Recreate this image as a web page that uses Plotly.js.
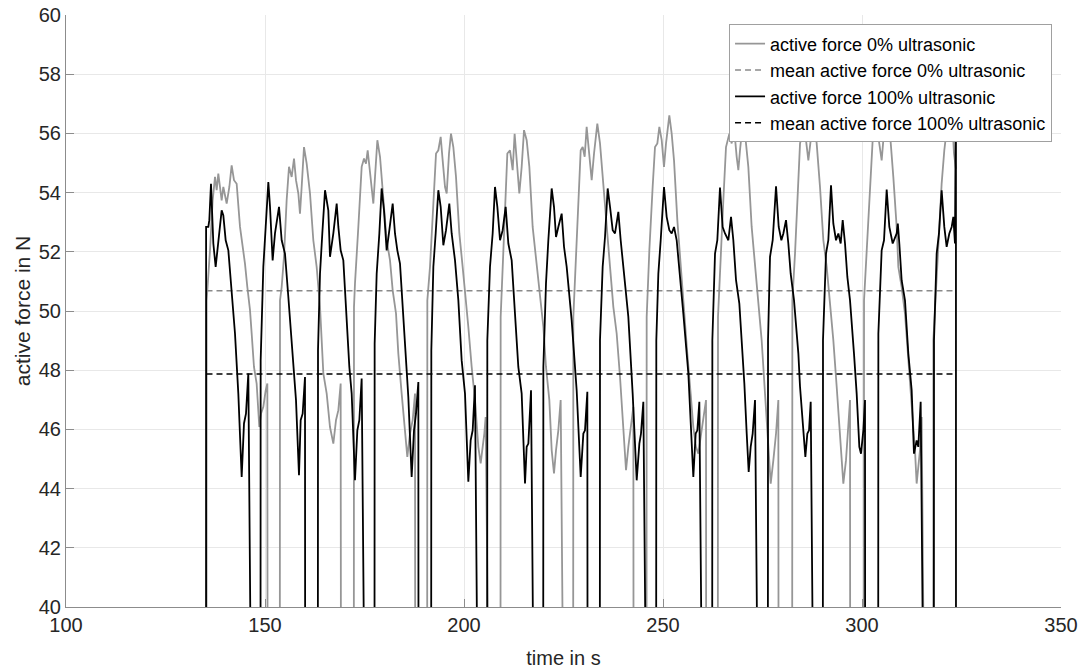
<!DOCTYPE html>
<html>
<head>
<meta charset="utf-8">
<script src="https://cdn.plot.ly/plotly-3.0.1.min.js"></script>
<style>html,body{margin:0;padding:0;background:#fff;}#chart{width:1086px;height:671px;}</style>
</head>
<body>
<div id="chart"></div>
<script>
// active force 100% ultrasonic: time (s) and force (N); 0 marks the drops below the axis
const time100 = [
135.18,135.20,135.76,136.01,136.43,137.02,137.60,138.27,139.11,139.53,140.12,140.79,141.62,142.46,143.30,144.14,144.72,145.22,145.81,145.98,
148.74,148.91,149.58,150.17,150.84,151.26,151.92,152.51,153.52,154.19,155.02,155.86,157.12,157.79,158.54,158.96,159.46,160.05,160.22,
163.15,163.32,163.82,164.40,165.08,165.91,166.33,167.17,168.01,168.43,169.01,169.68,170.35,171.19,171.78,172.61,173.20,173.70,174.29,174.46,
177.39,177.55,178.06,178.73,179.31,179.90,180.57,181.24,182.08,182.66,183.25,183.92,184.59,185.43,186.01,186.85,187.44,187.94,188.53,188.69,
191.63,191.79,192.30,192.88,193.55,194.14,194.81,195.48,196.31,196.90,197.74,198.58,199.41,200.25,201.09,201.67,202.18,202.76,202.93,
205.70,205.86,206.53,207.20,207.79,208.38,209.05,209.72,210.47,211.14,211.98,212.81,213.65,214.49,215.33,215.75,216.17,216.84,217.00,
219.77,219.94,220.60,221.19,222.03,222.61,223.12,223.70,224.54,225.13,225.80,227.05,228.31,229.32,229.99,230.40,230.99,231.24,
234.00,234.17,234.84,235.43,236.10,236.69,237.36,237.94,238.78,239.37,240.04,241.29,242.38,243.39,244.06,244.47,245.06,245.31,
248.16,248.32,248.83,249.42,250.25,250.92,251.59,252.18,252.77,253.44,254.11,255.11,256.37,257.20,257.62,258.21,258.63,259.13,259.30,
262.23,262.40,263.07,263.65,264.32,264.99,265.58,266.42,267.09,267.67,268.35,269.18,269.77,270.44,271.03,271.53,272.03,272.53,273.12,273.29,
276.22,276.39,276.89,277.56,278.40,279.07,279.74,280.24,280.91,281.49,282.08,282.92,284.01,284.43,285.26,285.77,286.27,286.69,287.11,287.36,
290.04,290.20,290.96,291.54,292.21,292.80,293.47,294.06,294.64,295.15,295.73,296.32,296.99,297.99,298.66,299.33,299.75,300.34,300.76,300.92,
303.94,304.11,304.94,305.53,306.20,306.87,307.71,308.71,309.00,309.38,309.96,310.80,311.64,312.48,313.06,313.73,314.15,314.74,315.16,
317.92,318.09,318.76,319.34,320.01,320.68,321.27,321.94,322.53,322.95,323.36,323.60,323.64
];
const force100 = [
0,52.84,52.84,53.07,54.30,52.28,51.49,52.39,53.40,53.23,52.39,52.05,50.70,49.24,47.21,44.39,46.20,46.53,47.89,0,
0,48.34,51.49,52.84,54.36,53.52,51.71,52.62,53.52,52.39,51.94,50.48,48.11,46.99,44.45,46.31,46.53,47.77,0,
0,48.67,51.26,52.62,54.08,53.40,51.83,52.62,53.63,52.84,52.05,51.71,50.03,48.11,47.21,44.28,45.97,46.31,47.72,0,
0,48.90,51.26,52.62,54.14,53.40,52.05,52.73,53.63,52.62,52.05,51.60,50.14,48.11,47.10,44.39,45.97,46.53,47.60,0,
0,48.67,51.49,52.62,54.08,53.52,52.22,52.73,53.63,52.62,51.71,50.36,48.34,47.21,44.23,45.63,45.97,47.49,0,
0,49.01,51.49,52.62,54.19,53.52,52.39,52.73,53.52,52.28,51.71,49.91,48.11,47.21,44.17,45.41,45.52,47.32,0,
0,48.11,50.93,52.39,54.14,53.52,52.50,52.84,53.29,52.17,51.49,49.69,47.32,44.39,45.86,45.97,47.27,0,
0,49.01,51.49,52.50,54.14,53.52,52.73,52.62,53.35,52.39,51.49,49.80,47.21,44.28,45.52,45.86,46.93,0,
0,49.01,51.26,52.39,54.19,53.18,52.73,52.62,52.84,52.39,51.49,49.91,47.89,45.86,44.39,45.86,45.97,46.93,0,
0,49.01,51.94,52.39,54.17,52.84,52.62,52.39,53.18,52.39,51.04,50.25,49.01,47.55,45.86,44.56,45.41,45.86,46.99,0,
0,49.01,51.83,52.39,54.21,52.84,52.39,52.62,53.07,52.28,51.26,50.36,48.56,47.44,45.86,45.07,45.86,45.97,46.93,0,
0,49.01,51.94,52.39,54.25,52.95,52.39,52.62,52.28,53.07,52.28,51.15,50.36,48.56,47.21,45.41,45.18,45.97,46.99,0,
0,49.24,52.05,52.39,54.10,52.84,52.28,52.62,52.95,52.28,51.04,50.36,48.56,47.32,45.18,45.63,45.41,46.93,0,
0,49.01,51.94,52.62,54.08,52.84,52.17,52.62,52.84,53.18,52.28,57.50,0
];

// active force 0% ultrasonic
const time0 = [
135.25,135.34,136.18,136.85,137.44,137.86,138.27,138.69,139.11,139.53,140.37,141.04,141.62,142.21,142.88,143.72,144.39,144.97,145.56,146.23,146.65,147.23,147.90,148.57,148.99,149.58,150.17,150.59,150.84,
153.60,153.77,154.19,154.77,155.44,156.03,156.70,157.29,157.79,158.38,158.79,159.21,159.80,160.47,161.31,162.14,162.98,163.82,164.66,165.50,166.33,167.17,167.84,168.43,169.01,169.35,
172.20,172.36,172.61,173.45,174.29,174.88,175.38,175.80,176.22,176.80,177.22,177.64,178.23,178.90,179.73,180.57,181.41,182.08,182.92,183.50,184.34,185.18,185.76,186.43,187.10,187.69,187.94,
190.62,190.79,191.46,192.30,192.97,193.55,194.14,194.64,195.23,195.65,196.23,196.73,197.32,197.99,198.83,199.66,200.50,201.09,201.93,202.76,203.60,204.19,204.69,205.11,205.44,205.61,
209.05,209.21,209.72,210.30,210.89,211.56,212.23,212.72,213.40,213.90,214.49,215.08,215.75,216.42,217.25,218.26,219.10,219.94,220.60,221.44,222.03,222.61,223.12,223.70,224.29,224.54,
227.31,227.47,228.14,228.73,229.32,229.82,230.32,230.82,231.41,232.08,232.67,233.50,234.17,234.84,235.85,236.69,237.52,238.36,239.20,240.04,240.71,241.29,241.88,242.55,242.80,
245.73,245.90,246.57,247.40,247.99,248.58,249.08,249.67,250.25,250.76,251.59,252.18,252.77,253.60,254.44,255.28,256.11,256.95,257.62,258.29,258.88,259.47,260.14,260.81,260.97,
263.65,263.82,264.32,265.16,265.83,266.67,267.26,267.84,268.51,268.93,269.35,270.02,270.61,271.44,272.28,273.12,273.96,274.79,275.63,276.47,277.06,277.73,278.40,278.98,279.23,
282.33,282.50,283.17,283.76,284.43,285.26,285.93,286.52,287.11,287.94,288.61,289.45,290.29,291.13,291.96,292.80,293.64,294.48,295.31,295.98,296.40,296.99,297.16,
300.34,300.51,301.18,302.01,302.68,303.52,304.11,304.94,305.36,306.20,307.04,307.87,308.71,309.13,309.96,310.80,311.64,312.48,313.31,313.73,314.15,314.57,314.99,315.24,
317.90,317.93,319.18,320.01,320.68,321.27,321.69,322.11,322.78,323.11,323.60
];
const force0 = [
0,50.36,52.05,53.74,54.53,54.08,54.64,54.19,53.74,54.19,53.63,54.19,54.92,54.42,54.30,52.84,52.17,51.60,50.81,50.03,49.24,48.11,47.55,46.08,46.53,46.76,47.32,47.55,0,
0,50.36,50.81,51.83,53.74,54.87,54.53,55.15,54.42,53.97,53.29,54.19,55.54,54.98,53.97,52.39,51.49,50.14,47.89,47.21,46.08,45.52,46.31,46.65,47.55,0,
0,50.14,50.93,52.84,54.87,55.15,54.98,55.43,54.87,54.19,53.63,54.53,55.77,55.21,53.85,52.39,51.71,50.70,49.91,48.56,47.21,45.86,45.07,45.86,46.31,47.21,0,
0,50.36,51.49,53.74,55.32,55.43,55.88,55.09,54.19,53.97,55.32,55.99,55.54,54.53,52.62,51.49,50.36,49.46,48.11,46.99,45.41,44.85,45.41,45.86,46.42,0,
0,49.80,51.49,53.52,55.32,55.43,54.76,55.99,54.87,53.97,54.87,56.11,55.77,54.87,52.84,51.60,50.36,49.46,48.11,46.99,45.30,44.51,45.30,45.97,46.99,0,
0,49.80,52.05,53.74,55.43,55.54,55.21,56.22,55.43,54.42,55.32,56.33,55.66,54.53,52.62,51.49,50.14,49.24,47.77,46.08,44.62,45.41,45.97,46.76,0,
0,49.80,52.05,54.19,55.54,55.66,56.22,55.77,54.87,55.66,56.61,55.99,55.09,53.07,51.49,50.14,48.56,47.21,46.08,45.41,45.18,45.75,46.31,46.99,0,
0,49.80,51.49,53.74,55.54,55.99,55.66,56.22,55.21,54.76,55.43,56.33,55.99,54.87,52.84,51.49,50.36,49.01,47.21,45.30,44.17,44.96,45.86,46.99,0,
0,50.36,51.94,53.97,55.66,56.11,55.77,55.09,55.77,56.33,55.66,54.19,52.39,51.49,50.36,49.01,47.44,45.86,44.17,44.96,45.86,46.99,0,
0,50.36,52.05,53.97,55.77,56.11,55.88,55.09,55.77,56.33,55.99,54.53,52.84,51.49,50.81,49.91,48.34,46.99,45.30,44.17,44.73,45.30,46.42,0,
0,49.01,52.05,54.30,55.43,56.11,55.99,56.44,56.22,55.32,54.80
];

// mean values and the time span they cover
const meanForce0 = 50.68;
const meanForce100 = 47.87;
const meanSpan = [135.3, 323.6];

const xTicks = [100, 150, 200, 250, 300, 350];
const yTicks = [40, 42, 44, 46, 48, 50, 52, 54, 56, 58, 60];

const names = ['active force 0% ultrasonic', 'mean active force 0% ultrasonic',
               'active force 100% ultrasonic', 'mean active force 100% ultrasonic'];

const FONT = '"Liberation Sans", Arial, Helvetica, sans-serif';
const GREY = '#969696';

const traces = [
  {x: time0, y: force0, type: 'scatter', mode: 'lines', name: names[0],
   line: {color: GREY, width: 1.8}},
  {x: meanSpan, y: [meanForce0, meanForce0], type: 'scatter', mode: 'lines', name: names[1],
   line: {color: '#8a8a8a', width: 1.5, dash: '6px,4px'}},
  {x: time100, y: force100, type: 'scatter', mode: 'lines', name: names[2],
   line: {color: '#000000', width: 1.8}},
  {x: meanSpan, y: [meanForce100, meanForce100], type: 'scatter', mode: 'lines', name: names[3],
   line: {color: '#000000', width: 1.5, dash: '6px,4px'}}
];

const axisCommon = {
  showgrid: true, gridcolor: '#e8e8e8', gridwidth: 1,
  showline: true, linecolor: '#8c8c8c', linewidth: 1,
  ticks: 'inside', ticklen: 8, tickcolor: '#8c8c8c', tickwidth: 1,
  zeroline: false, tickfont: {family: FONT, size: 20, color: '#262626'},
  fixedrange: true
};

const layout = {
  width: 1086, height: 671,
  margin: {l: 66, r: 25, t: 15, b: 64},
  paper_bgcolor: '#ffffff', plot_bgcolor: '#ffffff',
  font: {family: FONT, color: '#262626'},
  showlegend: true,
  xaxis: Object.assign({}, axisCommon, {
    range: [100, 350], tickmode: 'array', tickvals: xTicks, ticktext: xTicks.map(String),
    title: {text: 'time in s', font: {family: FONT, size: 20, color: '#262626'}, standoff: 15}
  }),
  yaxis: Object.assign({}, axisCommon, {
    range: [40, 60], tickmode: 'array', tickvals: yTicks, ticktext: yTicks.map(String),
    title: {text: 'active force in N', font: {family: FONT, size: 21, color: '#262626'}, standoff: 2}
  }),
  legend: {
    x: 0.991, y: 0.984, xanchor: 'right', yanchor: 'top',
    bgcolor: '#ffffff', bordercolor: '#a0a0a0', borderwidth: 1,
    font: {family: FONT, size: 18, color: '#000000'},
    itemwidth: 30, tracegroupgap: 0
  }
};

Plotly.newPlot('chart', traces, layout, {displayModeBar: false, staticPlot: true});
</script>
</body>
</html>
